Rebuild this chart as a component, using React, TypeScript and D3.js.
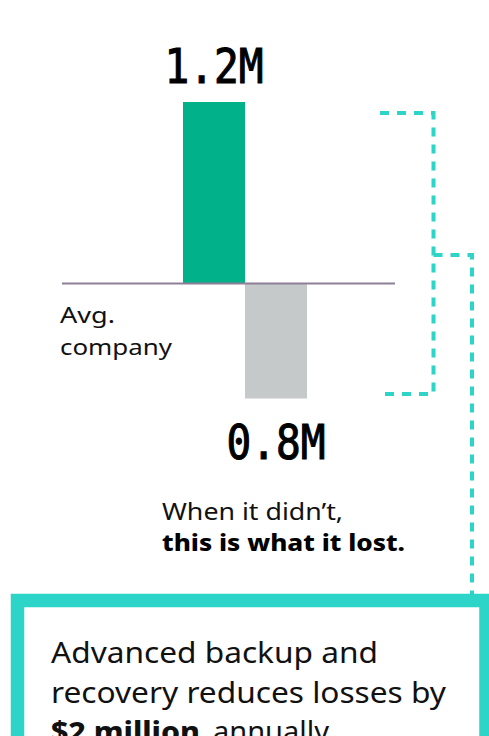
import React from "react";
import * as d3 from "d3";

const categories = ["With protection", "Avg. company"];
const values = [1.2, -0.76];
const valueLabels = ["1.2M", "0.8M"];
const barColors = ["#00b189", "#c6c9ca"];
const sideLabel = ["Avg.", "company"];
const captionLines = ["When it didn\u2019t,", "this is what it lost."];
const boxLines = ["Advanced backup and", "recovery reduces losses by"];
const boxBold = "$2 million";
const boxTail = "annually.";

const W = 489;
const H = 736;
const TEAL = "#2dd4c8";
const SANS = "'Noto Sans', 'Open Sans', sans-serif";
const MONO = "'DejaVu Sans Mono', monospace";

export default function App() {
  const x = d3.scaleBand<string>().domain(categories).range([183, 307]).paddingInner(0).paddingOuter(0);
  const y = d3.scaleLinear().domain([-0.76, 1.2]).range([398.5, 102]);
  const y0 = y(0);

  const dash = "9 8";
  const bracket1 = d3.path();
  bracket1.moveTo(380, 113);
  bracket1.lineTo(433.5, 113);
  bracket1.lineTo(433.5, 394);
  bracket1.lineTo(380, 394);
  const bracket2 = d3.path();
  bracket2.moveTo(433.5, 255);
  bracket2.lineTo(472, 255);
  bracket2.lineTo(472, 600);

  return (
    <svg width={W} height={H} style={{ position: "absolute", left: 0, top: 0, background: "#fff" }}>
      {categories.map((c, i) => {
        const v = values[i];
        const top = v >= 0 ? y(v) : y0;
        const h = Math.abs(y(v) - y0);
        return <rect key={c} x={x(c)} y={top} width={x.bandwidth()} height={h} fill={barColors[i]} />;
      })}
      <line x1={62} x2={395} y1={y0} y2={y0} stroke="#8e7f98" strokeWidth={2} />
      {categories.map((c, i) => {
        const v = values[i];
        const cx = (x(c) as number) + x.bandwidth() / 2;
        const ty = v >= 0 ? y(v) - 19 : y(v) + 60;
        return (
          <text key={c} x={cx} y={ty} textAnchor="middle" fontFamily={MONO} fontSize={48} fontWeight={400}
            stroke="#000" strokeWidth={1.1}
            textLength={99} lengthAdjust="spacingAndGlyphs" fill="#000">{valueLabels[i]}</text>
        );
      })}
      <text fontFamily={SANS} fontSize={21} fill="#111">
        <tspan x={60} y={323} textLength={55} lengthAdjust="spacingAndGlyphs">{sideLabel[0]}</tspan>
        <tspan x={60} y={355} textLength={112} lengthAdjust="spacingAndGlyphs">{sideLabel[1]}</tspan>
      </text>
      <text x={162} y={520} fontFamily={SANS} fontSize={23} fill="#111" textLength={181} lengthAdjust="spacingAndGlyphs">{captionLines[0]}</text>
      <text x={162} y={551} fontFamily={SANS} fontSize={23} fontWeight={800} fill="#000" textLength={243} lengthAdjust="spacingAndGlyphs">{captionLines[1]}</text>
      <path d={bracket1.toString()} fill="none" stroke={TEAL} strokeWidth={4} strokeDasharray={dash} />
      <path d={bracket2.toString()} fill="none" stroke={TEAL} strokeWidth={4} strokeDasharray={dash} />
      <rect x={17.5} y={600.5} width={468.5} height={200} fill="#fff" stroke={TEAL} strokeWidth={13.5} />
      <text fontFamily={SANS} fontSize={29} fill="#111">
        <tspan x={51} y={663} textLength={327} lengthAdjust="spacingAndGlyphs">{boxLines[0]}</tspan>
        <tspan x={51} y={703} textLength={395} lengthAdjust="spacingAndGlyphs">{boxLines[1]}</tspan>
      </text>
      <text fontFamily={SANS} fontSize={29} fill="#111">
        <tspan x={51} y={742} fontWeight={800} textLength={149} lengthAdjust="spacingAndGlyphs">{boxBold}</tspan>
        <tspan x={213} y={742}>{boxTail}</tspan>
      </text>
    </svg>
  );
}
